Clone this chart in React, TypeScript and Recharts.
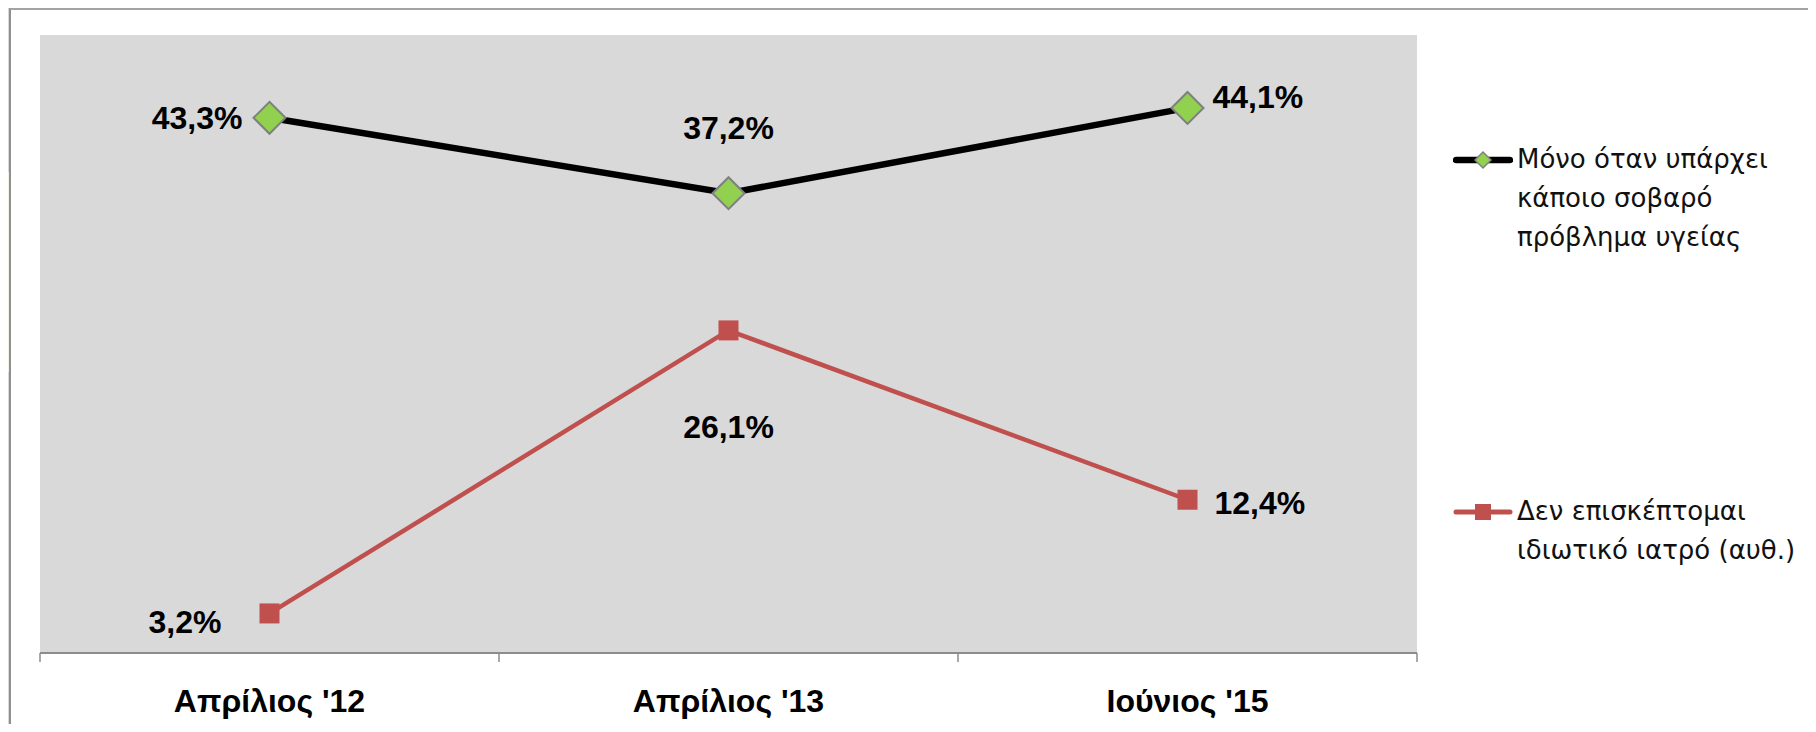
import { LineChart, Line, XAxis, YAxis, CartesianGrid, LabelList } from "recharts";

const PERIODS = ["Απρίλιος '12", "Απρίλιος '13", "Ιούνιος '15"];
const ONLY_SERIOUS = [43.3, 37.2, 44.1];
const NO_PRIVATE_DOCTOR = [3.2, 26.1, 12.4];
const LEGEND_LINES = [
  ["Μόνο όταν υπάρχει", "κάποιο σοβαρό", "πρόβλημα υγείας"],
  ["Δεν επισκέπτομαι", "ιδιωτικό ιατρό (αυθ.)"],
];

const data = PERIODS.map((period, i) => ({
  period,
  serious: ONLY_SERIOUS[i],
  noVisit: NO_PRIVATE_DOCTOR[i],
}));

const BLACK = "#000000";
const RED = "#c0504d";
const GREEN = "#92d050";
const PLOT_BG = "#d9d9d9";

const fmt = (v: number) => v.toFixed(1).replace(".", ",") + "%";

// where each value label sits relative to its point
const SERIOUS_LABELS = [
  { dx: -27, dy: 0, anchor: "end" },
  { dx: 0, dy: -65, anchor: "middle" },
  { dx: 25, dy: -11, anchor: "start" },
];
const NOVISIT_LABELS = [
  { dx: -48, dy: 9, anchor: "end" },
  { dx: 0, dy: 97, anchor: "middle" },
  { dx: 27, dy: 3, anchor: "start" },
];

const makeLabel = (spots: typeof SERIOUS_LABELS) => (props: any) => {
  const { x, y, value, index } = props;
  const s = spots[index];
  return (
    <text
      x={x + s.dx}
      y={y + s.dy}
      textAnchor={s.anchor as any}
      dominantBaseline="central"
      fontFamily="'Liberation Sans', Arial, sans-serif"
      fontWeight="bold"
      fontSize={32}
      fill="#000"
    >
      {fmt(Number(value))}
    </text>
  );
};

const Diamond = (props: any) => {
  const { cx, cy, index } = props;
  const r = 16;
  return (
    <polygon
      key={`d-${index}`}
      points={`${cx - r},${cy} ${cx},${cy - r} ${cx + r},${cy} ${cx},${cy + r}`}
      fill={GREEN}
      stroke="#7f7f7f"
      strokeWidth={2}
    />
  );
};

const Square = (props: any) => {
  const { cx, cy, index } = props;
  const r = 10;
  return <rect key={`s-${index}`} x={cx - r} y={cy - r} width={r * 2} height={r * 2} fill={RED} />;
};

const PeriodTick = (props: any) => {
  const { x, y, payload, index, visibleTicksCount, width } = props;
  const half = payload.offset || width / visibleTicksCount / 2;
  return (
    <g>
      <line x1={x - half} x2={x - half} y1={y} y2={y + 9} stroke="#8c8c8c" strokeWidth={1.5} />
      {index === visibleTicksCount - 1 && (
        <line x1={x + half} x2={x + half} y1={y} y2={y + 9} stroke="#8c8c8c" strokeWidth={1.5} />
      )}
      <text
        x={x}
        y={y + 59}
        textAnchor="middle"
        fontFamily="'Liberation Sans', Arial, sans-serif"
        fontWeight="bold"
        fontSize={32}
        fill="#000"
      >
        {payload.value}
      </text>
    </g>
  );
};

const LegendIcon = ({ kind }: { kind: number }) => (
  <svg width={60} height={20} style={{ display: "block" }}>
    <line
      x1={3}
      x2={57}
      y1={10}
      y2={10}
      stroke={kind === 0 ? BLACK : RED}
      strokeWidth={kind === 0 ? 6.5 : 5}
      strokeLinecap="round"
    />
    {kind === 0 ? (
      <polygon points="22,10 30,2 38,10 30,18" fill={GREEN} stroke="#7f7f7f" strokeWidth={1.5} />
    ) : (
      <rect x={22} y={2} width={16} height={16} fill={RED} />
    )}
  </svg>
);

const ChartLegend = () => (
  <div
    style={{
      position: "absolute",
      left: 1453,
      top: 140,
      fontFamily: "'DejaVu Sans', sans-serif",
      fontSize: 26,
      lineHeight: "39px",
      color: "#111",
    }}
  >
    {LEGEND_LINES.map((lines, k) => (
      <div
        key={k}
        style={{ display: "flex", alignItems: "flex-start", marginBottom: k === 0 ? 235 : 0 }}
      >
        <div style={{ marginTop: 10, marginRight: 4 }}>
          <LegendIcon kind={k} />
        </div>
        <div>
          {lines.map((t) => (
            <div key={t}>{t}</div>
          ))}
        </div>
      </div>
    ))}
  </div>
);

export default function App() {
  return (
    <div
      style={{
        position: "relative",
        width: 1816,
        height: 732,
        margin: -8,
        background: "#d8d8d8",
        overflow: "hidden",
      }}
    >
      <div style={{ position: "absolute", left: 0, top: 172, width: 9, height: 200, background: "#eef5e0" }} />
      <div
        style={{
          position: "absolute",
          left: 9,
          top: 8,
          width: 1807,
          height: 724,
          borderLeft: "2px solid #8f8f8f",
          borderTop: "2px solid #a3a3a3",
          background: "#ffffff",
        }}
      />
      <div style={{ position: "absolute", left: 0, top: 0 }}>
        <LineChart
          width={1816}
          height={732}
          data={data}
          margin={{ top: 35, right: 399, bottom: 9, left: 40 }}
        >
          <CartesianGrid fill={PLOT_BG} stroke="none" horizontal={false} vertical={false} />
          <XAxis
            dataKey="period"
            scale="band"
            height={70}
            axisLine={{ stroke: "#8c8c8c", strokeWidth: 2 }}
            tickLine={false}
            tickSize={0}
            tickMargin={0}
            interval={0}
            tick={<PeriodTick />}
          />
          <YAxis hide domain={[0, 50]} />
          <Line
            type="linear"
            dataKey="serious"
            stroke={BLACK}
            strokeWidth={6.5}
            dot={<Diamond />}
            activeDot={false}
            isAnimationActive={false}
          >
            <LabelList dataKey="serious" content={makeLabel(SERIOUS_LABELS)} />
          </Line>
          <Line
            type="linear"
            dataKey="noVisit"
            stroke={RED}
            strokeWidth={4.5}
            dot={<Square />}
            activeDot={false}
            isAnimationActive={false}
          >
            <LabelList dataKey="noVisit" content={makeLabel(NOVISIT_LABELS)} />
          </Line>
        </LineChart>
      </div>
      <ChartLegend />
    </div>
  );
}
